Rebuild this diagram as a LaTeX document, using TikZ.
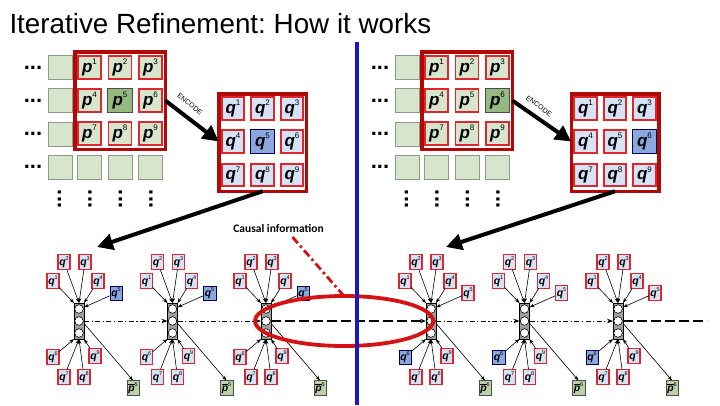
\documentclass[tikz,border=0pt]{standalone}
\usepackage{fontspec}
\setmainfont{Liberation Sans}
\newfontfamily\carl{Carlito}
\usetikzlibrary{arrows.meta,shapes.geometric,calc}
\frenchspacing

\definecolor{framered}{RGB}{178,8,8}
\definecolor{cellred}{RGB}{222,38,44}
\definecolor{pgreen}{RGB}{214,229,204}
\definecolor{pgreendk}{RGB}{148,186,128}
\definecolor{qblue}{RGB}{214,227,246}
\definecolor{qbluedk}{RGB}{138,168,222}
\definecolor{ellred}{RGB}{214,18,18}
\definecolor{divblue}{RGB}{24,24,200}
\definecolor{gborder}{RGB}{140,155,135}
\definecolor{colgray}{RGB}{160,160,160}
\definecolor{pbgreen}{RGB}{186,210,170}

\newcommand{\cellv}[2]{{\fontsize{17}{17}\selectfont\bfseries\itshape #1}\raisebox{7.5pt}{\fontsize{8}{8}\selectfont #2}}
\newcommand{\smv}[2]{{\fontsize{10.5}{10.5}\selectfont\bfseries\itshape #1}\raisebox{4.8pt}{\fontsize{5.5}{5.5}\selectfont #2}}
\newcommand{\pbv}[1]{$\overline{\mbox{\fontsize{10.5}{10.5}\selectfont\bfseries\itshape p}}$\raisebox{4.8pt}{\fontsize{5.5}{5.5}\selectfont #1}}

\tikzset{
  every node/.style={inner sep=0pt, outer sep=0pt},
  gcell/.style={draw=gborder, line width=0.6pt, fill=pgreen, minimum size=24pt},
  pcell/.style={draw=cellred, line width=1.8pt, fill=pgreen, minimum size=23pt},
  phi/.style={draw=gray!60!black, line width=0.6pt, fill=pgreendk, minimum size=24.5pt},
  qcell/.style={draw=cellred, line width=1.8pt, fill=qblue, minimum size=22.5pt},
  qhi/.style={draw=blue!35!black, line width=0.6pt, fill=qbluedk, minimum size=24pt},
  gridframe/.style={draw=framered, line width=3.5pt, fill=white},
  hdots/.style={font=\fontsize{22}{22}\selectfont\bfseries},
  vdots/.style={font=\fontsize{22}{22}\selectfont\bfseries, rotate=90},
  bigarrow/.style={line width=4pt, -{Triangle[length=16pt,width=16pt]}},
  enc/.style={font=\fontsize{7}{7}\selectfont},
  qs/.style={draw=cellred, line width=1.4pt, fill=qblue, minimum width=12pt, minimum height=15pt},
  qb/.style={draw=blue!35!black, line width=0.5pt, fill=qbluedk, minimum width=12.5pt, minimum height=14pt},
  pbar/.style={draw=gray!60!black, line width=0.5pt, fill=pbgreen, minimum width=12.5pt, minimum height=15pt},
  colbox/.style={draw=black, line width=0.6pt, fill=colgray, minimum width=10pt, minimum height=36pt},
  cir/.style={circle, draw=black, line width=0.6pt, fill=white, minimum size=8.6pt},
  sarr/.style={line width=0.6pt, -{Stealth[length=5pt,width=3.6pt]}},
  dd/.style={line width=0.9pt, dash pattern=on 5pt off 2.5pt on 1.2pt off 2.5pt, -{Stealth[length=6pt,width=4.5pt]}},
  ld/.style={line width=1.3pt, dash pattern=on 10pt off 4pt},
  lda/.style={ld, -{Stealth[length=6pt,width=4.5pt]}},
  causalline/.style={draw=ellred, line width=2.8pt, dash pattern=on 8pt off 3.5pt on 2.5pt off 3.5pt},
  ellring/.style={ellipse, draw=ellred, line width=3.8pt, minimum width=178pt, minimum height=50pt},
  divider/.style={draw=divblue, line width=3.5pt}
}

% #1 id, #2 p shift, #3 q shift, #4 p5 style, #5 p6 style, #6 q5 style, #7 q6 style
\newcommand{\panel}[7]{%
\begin{scope}[shift={(#2,0)}]
  \node[hdots] (#1d1) at (33,67.5) {...};
  \node[hdots] (#1d2) at (33,100.5) {...};
  \node[hdots] (#1d3) at (33,134) {...};
  \node[hdots] (#1d4) at (33,167) {...};
  \node[gcell] (#1g1) at (60,67.5) {};
  \node[gcell] (#1g2) at (60,100.5) {};
  \node[gcell] (#1g3) at (60,134) {};
  \node[gcell] (#1g4) at (60,167) {};
  \node[gcell] (#1g5) at (89.5,167) {};
  \node[gcell] (#1g6) at (120,167) {};
  \node[gcell] (#1g7) at (150.5,167) {};
  \node[gridframe, minimum width=90.5pt, minimum height=97.5pt] (#1pf) at (120,100.5) {};
  \node[pcell] (#1p1) at (89.5,67.5) {\cellv{p}{1}};
  \node[pcell] (#1p2) at (120,67.5) {\cellv{p}{2}};
  \node[pcell] (#1p3) at (150.5,67.5) {\cellv{p}{3}};
  \node[pcell] (#1p4) at (89.5,100.5) {\cellv{p}{4}};
  \node[#4] (#1p5) at (120,100.5) {\cellv{p}{5}};
  \node[#5] (#1p6) at (150.5,100.5) {\cellv{p}{6}};
  \node[pcell] (#1p7) at (89.5,133.5) {\cellv{p}{7}};
  \node[pcell] (#1p8) at (120,133.5) {\cellv{p}{8}};
  \node[pcell] (#1p9) at (150.5,133.5) {\cellv{p}{9}};
  \node[vdots] (#1v1) at (59.5,199) {...};
  \node[vdots] (#1v2) at (90,199) {...};
  \node[vdots] (#1v3) at (120.5,199) {...};
  \node[vdots] (#1v4) at (151,199) {...};
\end{scope}
\begin{scope}[shift={(#3,0)}]
  \node[gridframe, minimum width=87.5pt, minimum height=97.5pt] (#1qf) at (262.5,142.5) {};
  \node[qcell] (#1q1) at (233,108.5) {\cellv{q}{1}};
  \node[qcell] (#1q2) at (262.5,108.5) {\cellv{q}{2}};
  \node[qcell] (#1q3) at (292,108.5) {\cellv{q}{3}};
  \node[qcell] (#1q4) at (233,141.5) {\cellv{q}{4}};
  \node[#6] (#1q5) at (262.5,141.5) {\cellv{q}{5}};
  \node[#7] (#1q6) at (292,141.5) {\cellv{q}{6}};
  \node[qcell] (#1q7) at (233,175) {\cellv{q}{7}};
  \node[qcell] (#1q8) at (262.5,175) {\cellv{q}{8}};
  \node[qcell] (#1q9) at (292,175) {\cellv{q}{9}};
\end{scope}
\draw[bigarrow] (#1pf.east |- #1p6) -- (#1qf.west |- #1q4);
}

% #1 id, #2 centre x, #3 style of q5, #4 style of q6, #5 pbar index
\newcommand{\qgroup}[5]{%
\begin{scope}[shift={(#2,0)}]
  \node[colbox] (c#1) at (0,321) {};
  \node[cir] (c#1a) at (0,309) {};
  \node[cir] (c#1b) at (0,321) {};
  \node[cir] (c#1c) at (0,333) {};
  \node[qs] (g#1q2) at (-15,262) {\smv{q}{2}};
  \node[qs] (g#1q3) at (6,262) {\smv{q}{3}};
  \node[qs] (g#1q1) at (-26,281) {\smv{q}{1}};
  \node[qs] (g#1q4) at (19,281) {\smv{q}{4}};
  \node[#3] (g#1q5) at (37,293) {\smv{q}{5}};
  \node[#4] (g#1q6) at (-26,357) {\smv{q}{6}};
  \node[qs] (g#1q9) at (16,356) {\smv{q}{9}};
  \node[qs] (g#1q7) at (-15,377) {\smv{q}{7}};
  \node[qs] (g#1q8) at (5,377) {\smv{q}{8}};
  \node[pbar] (g#1p) at (54,388) {\pbv{#5}};
\end{scope}
\draw[sarr] (g#1q1) -- (c#1.north west);
\draw[sarr] (g#1q2) -- (c#1.north);
\draw[sarr] (g#1q3) -- (c#1.north);
\draw[sarr] (g#1q4) -- (c#1.north east);
\draw[sarr] (g#1q5) -- (c#1.70);
\draw[sarr] (g#1q6) -- (c#1.south west);
\draw[sarr] (g#1q7) -- (c#1.south);
\draw[sarr] (g#1q8) -- (c#1.south);
\draw[sarr] (g#1q9) -- (c#1.south east);
\draw[sarr] (c#1.-25) -- (g#1p.north);
}

\begin{document}
\begin{tikzpicture}[x=1pt,y=-1pt]
\useasboundingbox (0,0) rectangle (720,405);
\fill[white] (0,0) rectangle (720,405);

\node[anchor=base west, font=\fontsize{27.8}{30}\selectfont] (title) at (9.5,33.5) {Iterative Refinement: How it works};

\panel{L}{0}{0}{phi}{pcell}{qhi}{qcell}
\panel{R}{347}{352.5}{pcell}{phi}{qcell}{qhi}

\node[enc, rotate=-39] (Lenc) at (190,104) {ENCODE};
\node[enc, rotate=-36] (Renc) at (539,106) {ENCODE};

\coordinate (Ltip) at (97,247);
\coordinate (Rtip) at (446,247);
\draw[bigarrow] (Lqf.south) -- (Ltip);
\draw[bigarrow] (Rqf.south) -- (Rtip);

\qgroup{1}{79}{qb}{qs}{5}
\qgroup{2}{172.5}{qb}{qs}{5}
\qgroup{3}{266}{qb}{qs}{5}
\qgroup{4}{431}{qs}{qb}{6}
\qgroup{5}{524.5}{qs}{qb}{6}
\qgroup{6}{618}{qs}{qb}{6}

\coordinate (lineend) at (707,321);
\draw[dd] (c1.east) -- (c2.west);
\draw[dd] (c2.east) -- (c3.west);
\draw[lda] (c3.east) -- (c4.west);
\draw[dd] (c4.east) -- (c5.west);
\draw[dd] (c5.east) -- (c6.west);
\draw[ld] (c6.east) -- (lineend);

\node[font=\carl\bfseries\fontsize{11.5}{12}\selectfont] (causal) at (278.5,228) {Causal information};
\node[ellring] (ell) at (344,321) {};
\draw[causalline] ([xshift=14pt,yshift=-5pt]causal.south) -- (ell.north);

\draw[divider] (357,42) -- (357,405);
\end{tikzpicture}
\end{document}
